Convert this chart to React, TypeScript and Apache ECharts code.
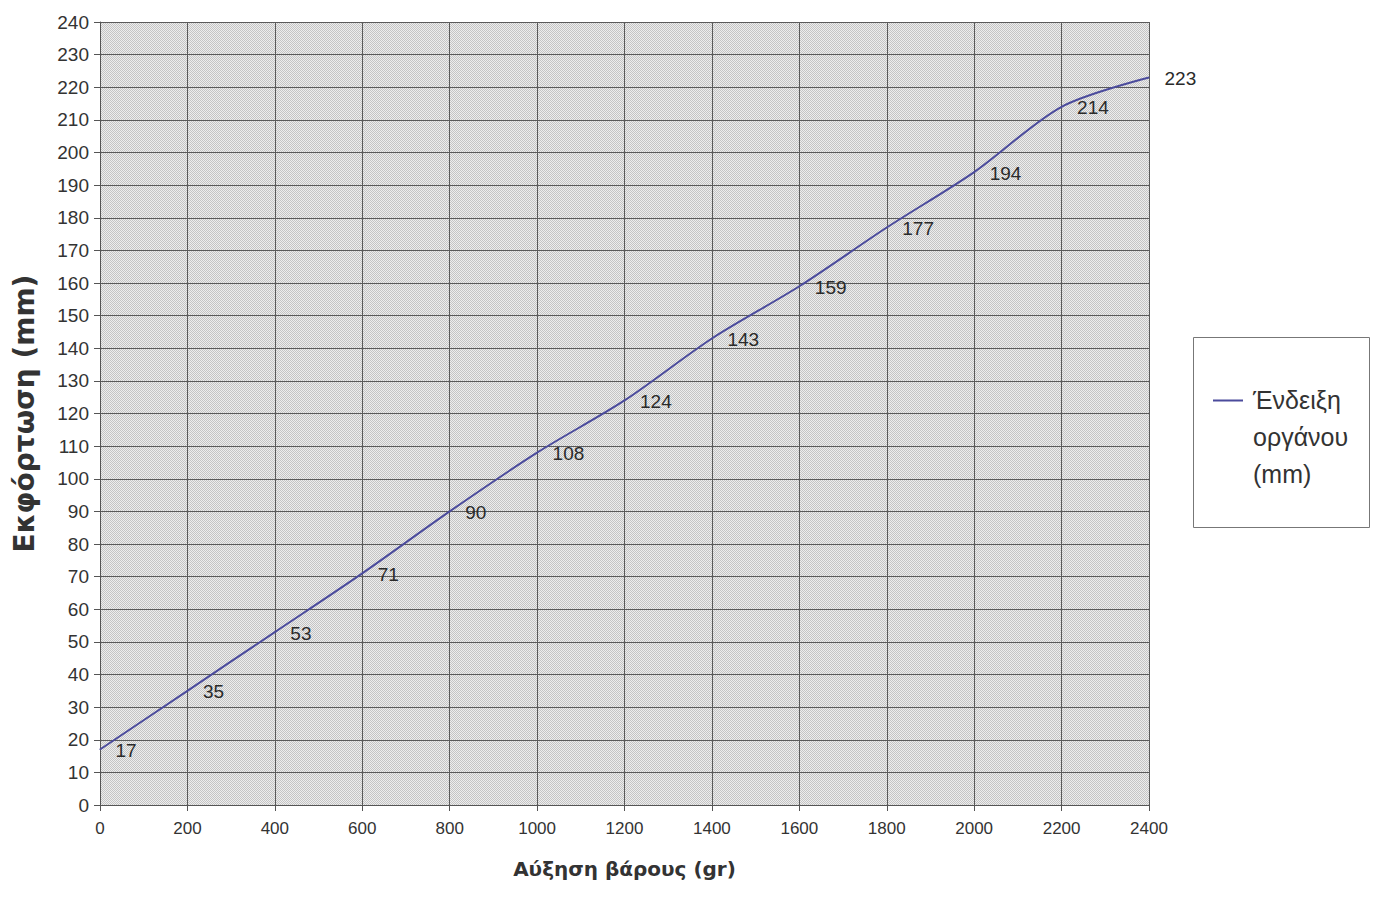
import React, { useEffect, useRef } from "react";
import * as echarts from "echarts";

// Weight increase (gr) and instrument reading (mm)
const weights = [0, 200, 400, 600, 800, 1000, 1200, 1400, 1600, 1800, 2000, 2200, 2400];
const readings = [17, 35, 53, 71, 90, 108, 124, 143, 159, 177, 194, 214, 223];

const seriesName = "Ένδειξη\nοργάνου\n(mm)";
const xTitle = "Αύξηση βάρους (gr)";
const yTitle = "Εκφόρτωση (mm)";

const FONT = "'Liberation Sans', Arial, sans-serif";
const TITLE_FONT = "'DejaVu Sans', Verdana, sans-serif";
const LINE_COLOR = "#4b4b9c";

// Legend marker: a short line at the top of a tall box, so it sits beside the first text line
const LEGEND_ICON = "path://M0,0H30V2H0Z M0,74H30V74.01H0Z";

// Fine dotted fill for the plot area
function dotPattern(): string {
  const c = document.createElement("canvas");
  c.width = 2;
  c.height = 2;
  const ctx = c.getContext("2d")!;
  ctx.fillStyle = "#ededed";
  ctx.fillRect(0, 0, 2, 2);
  ctx.fillStyle = "#c4c4c4";
  ctx.fillRect(0, 0, 1, 1);
  ctx.fillRect(1, 1, 1, 1);
  return c.toDataURL();
}

export default function App() {
  const ref = useRef<HTMLDivElement>(null);

  useEffect(() => {
    document.body.style.margin = "0";
    if (!ref.current) return;
    const chart = echarts.init(ref.current, undefined, { renderer: "svg" });
    chart.setOption({
      animation: false,
      backgroundColor: "#ffffff",
      textStyle: { fontFamily: FONT },
      grid: {
        left: 100,
        right: 230,
        top: 22,
        bottom: 96,
        show: true,
        outerBoundsMode: "none",
        containLabel: false,
        backgroundColor: { image: dotPattern(), repeat: "repeat" },
        borderWidth: 0,
      },
      xAxis: {
        type: "value",
        min: 0,
        max: 2400,
        interval: 200,
        name: xTitle,
        nameLocation: "middle",
        nameGap: 54,
        nameTextStyle: { fontSize: 20, fontWeight: "bold", color: "#333", fontFamily: TITLE_FONT },
        axisLine: { show: true, lineStyle: { color: "#555", width: 1 } },
        axisTick: { show: true, length: 6, lineStyle: { color: "#555" } },
        axisLabel: {
          fontSize: 17,
          color: "#333",
          margin: 15,
          fontFamily: FONT,
          formatter: (v: number) => String(v),
        },
        splitLine: { show: true, lineStyle: { color: "#5a5a5a", width: 1 } },
      },
      yAxis: {
        type: "value",
        min: 0,
        max: 240,
        interval: 10,
        name: yTitle,
        nameLocation: "middle",
        nameGap: 62,
        nameTextStyle: { fontSize: 28, fontWeight: "bold", color: "#333", fontFamily: TITLE_FONT },
        axisLine: { show: true, lineStyle: { color: "#555", width: 1 } },
        axisTick: { show: true, length: 6, lineStyle: { color: "#555" } },
        axisLabel: { fontSize: 19, color: "#333", margin: 11, fontFamily: FONT },
        splitLine: { show: true, lineStyle: { color: "#5a5a5a", width: 1 } },
      },
      graphic: [
        {
          type: "rect",
          left: 1193,
          top: 337,
          shape: { width: 176, height: 190 },
          style: { fill: "#ffffff", stroke: "#777", lineWidth: 1 },
          z: 0,
        },
      ],
      legend: {
        show: true,
        left: 1213,
        top: 381,
        orient: "vertical",
        icon: LEGEND_ICON,
        itemWidth: 30,
        itemHeight: 76,
        itemGap: 0,
        padding: 0,
        textStyle: {
          fontSize: 25,
          color: "#333",
          lineHeight: 37,
          fontFamily: FONT,
          padding: [0, 0, 0, 5],
        },
        data: [{ name: seriesName, itemStyle: { color: LINE_COLOR, opacity: 1 } }],
      },
      series: [
        {
          type: "line",
          name: seriesName,
          data: weights.map((w, i) => [w, readings[i]]),
          smooth: 0.3,
          showSymbol: true,
          symbol: "circle",
          symbolSize: 1,
          lineStyle: { color: LINE_COLOR, width: 2 },
          itemStyle: { color: LINE_COLOR },
          label: {
            show: true,
            position: "right",
            distance: 13,
            offset: [2, 1],
            fontSize: 19,
            color: "#2a2a2a",
            fontFamily: FONT,
          },
        },
      ],
    });
    return () => chart.dispose();
  }, []);

  return <div ref={ref} style={{ width: 1379, height: 901 }} />;
}
